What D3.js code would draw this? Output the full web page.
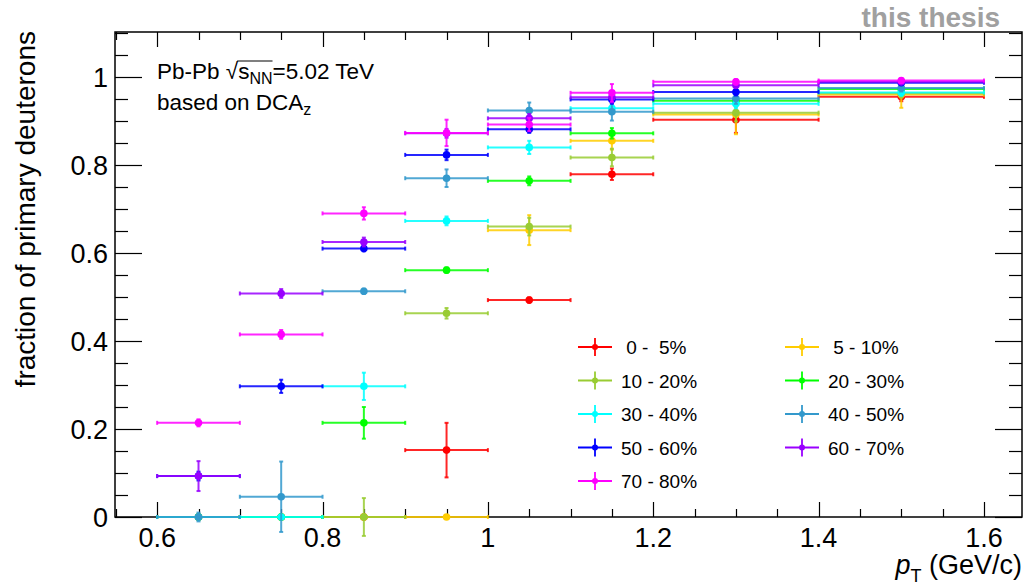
<!DOCTYPE html>
<html>
<head>
<meta charset="utf-8">
<script src="https://cdn.jsdelivr.net/npm/d3@7"></script>
<style>
  body { margin: 0; background: #fff; }
  text { font-family: "Liberation Sans", Arial, Helvetica, sans-serif; }
</style>
</head>
<body>
<script>
// bins in pT (GeV/c)
var binLo = [0.6, 0.7, 0.8, 0.9, 1.0, 1.1, 1.2, 1.4];
var binHi = [0.7, 0.8, 0.9, 1.0, 1.1, 1.2, 1.4, 1.6];

// centrality classes
var classNames = [" 0 -  5%", " 5 - 10%", "10 - 20%", "20 - 30%", "30 - 40%",
                  "40 - 50%", "50 - 60%", "60 - 70%", "70 - 80%"];
var classColors = ["#ff0000", "#ffcc00", "#99cc33", "#00ff00", "#00ffff",
                   "#3399cc", "#0000ff", "#9900ff", "#ff00ff"];

// fraction of primary deuterons per class, one value per bin
var frac0_5   = [0, 0, 0, 0.152, 0.493, 0.779, 0.903, 0.955];
var frac5_10  = [0, 0, 0, 0, 0.652, 0.855, 0.915, 0.960];
var frac10_20 = [0, 0, 0, 0.463, 0.660, 0.817, 0.919, 0.963];
var frac20_30 = [0, 0, 0.214, 0.561, 0.764, 0.872, 0.946, 0.973];
var frac30_40 = [0, 0, 0.297, 0.673, 0.840, 0.929, 0.939, 0.965];
var frac40_50 = [0, 0.046, 0.513, 0.770, 0.924, 0.921, 0.951, 0.975];
var frac50_60 = [0.093, 0.297, 0.610, 0.823, 0.881, 0.949, 0.966, 0.987];
var frac60_70 = [0.093, 0.508, 0.625, 0.872, 0.906, 0.954, 0.981, 0.989];
var frac70_80 = [0.214, 0.415, 0.690, 0.873, 0.892, 0.964, 0.989, 0.992];

// statistical errors
var err0_5   = [0.004, 0.004, 0.004, 0.062, 0.006, 0.013, 0.030, 0.010];
var err5_10  = [0.004, 0.004, 0.004, 0.004, 0.034, 0.020, 0.045, 0.030];
var err10_20 = [0.004, 0.004, 0.043, 0.012, 0.020, 0.020, 0.020, 0.010];
var err20_30 = [0.004, 0.004, 0.036, 0.006, 0.010, 0.012, 0.010, 0.008];
var err30_40 = [0.004, 0.004, 0.031, 0.010, 0.015, 0.012, 0.010, 0.008];
var err40_50 = [0.010, 0.080, 0.006, 0.020, 0.018, 0.020, 0.012, 0.008];
var err50_60 = [0.010, 0.015, 0.006, 0.012, 0.008, 0.010, 0.008, 0.005];
var err60_70 = [0.034, 0.010, 0.010, 0.010, 0.010, 0.012, 0.006, 0.005];
var err70_80 = [0.008, 0.010, 0.014, 0.030, 0.015, 0.020, 0.006, 0.005];

var allFrac = [frac0_5, frac5_10, frac10_20, frac20_30, frac30_40, frac40_50, frac50_60, frac60_70, frac70_80];
var allErr  = [err0_5, err5_10, err10_20, err20_30, err30_40, err40_50, err50_60, err60_70, err70_80];

var xMajor = [0.6, 0.8, 1.0, 1.2, 1.4, 1.6];
var yMajor = [0, 0.2, 0.4, 0.6, 0.8, 1.0];

var W = 1027, H = 587;
var padL = 115, padR = 1022, padT = 32, padB = 517;

var svg = d3.select("body").append("svg").attr("width", W).attr("height", H);

var x = d3.scaleLinear().domain([0.549, 1.646]).range([padL, padR]);
var y = d3.scaleLinear().domain([0, 1.1023]).range([padB, padT]);

// ticks, ROOT style (inside the frame, on all four sides)
var xMinor = d3.range(0.55, 1.6451, 0.05);
var yMinor = d3.range(0, 1.1001, 0.05);
var isMajor = function(v, list) { return list.some(function(m) { return Math.abs(m - v) < 1e-6; }); };

var tickG = svg.append("g").attr("stroke", "#000").attr("stroke-width", 1.2);
xMinor.forEach(function(v) {
    var len = isMajor(v, xMajor) ? 15 : 8;
    var px = Math.round(x(v)) + 0.5;
    tickG.append("line").attr("x1", px).attr("x2", px).attr("y1", padB).attr("y2", padB - len);
    tickG.append("line").attr("x1", px).attr("x2", px).attr("y1", padT).attr("y2", padT + len);
});
yMinor.forEach(function(v) {
    var len = isMajor(v, yMajor) ? 27 : 13;
    var py = Math.round(y(v)) + 0.5;
    tickG.append("line").attr("x1", padL).attr("x2", padL + len).attr("y1", py).attr("y2", py);
    tickG.append("line").attr("x1", padR).attr("x2", padR - len).attr("y1", py).attr("y2", py);
});

// frame
svg.append("rect").attr("x", padL).attr("y", padT).attr("width", padR - padL).attr("height", padB - padT)
    .attr("fill", "none").attr("stroke", "#000").attr("stroke-width", 1.5);

// tick labels
xMajor.forEach(function(v) {
    svg.append("text").attr("x", x(v)).attr("y", 547).attr("text-anchor", "middle")
        .attr("font-size", 27).text(+v.toFixed(1));
});
yMajor.forEach(function(v) {
    svg.append("text").attr("x", 108).attr("y", y(v) + 10).attr("text-anchor", "end")
        .attr("font-size", 27).text(+v.toFixed(1));
});

// axis titles
svg.append("text").attr("transform", "translate(35,31) rotate(-90)").attr("text-anchor", "end")
    .attr("font-size", 28).text("fraction of primary deuterons");

var xt = svg.append("text").attr("x", 1022).attr("y", 574).attr("text-anchor", "end").attr("font-size", 27);
xt.append("tspan").attr("font-style", "italic").text("p");
xt.append("tspan").attr("font-size", 18).attr("dy", 8).text("T");
xt.append("tspan").attr("dy", -8).text(" (GeV/c)");

// "this thesis"
svg.append("text").attr("x", 1000).attr("y", 27).attr("text-anchor", "end").attr("font-size", 28)
    .attr("font-weight", "bold").attr("fill", "#a0a0a0").text("this thesis");

// system label
var sys = svg.append("text").attr("x", 157).attr("y", 79).attr("font-size", 22.5);
sys.append("tspan").text("Pb-Pb ");
sys.append("tspan").text("\u221A");
sys.append("tspan").text("s");
sys.append("tspan").attr("font-size", 16).attr("dy", 5).text("NN");
sys.append("tspan").attr("dy", -5).text("=5.02 TeV");
var sqExt = sys.node().getExtentOfChar(6);
var nnExt = sys.node().getExtentOfChar(9);
svg.append("line").attr("x1", sqExt.x + sqExt.width - 1).attr("x2", nnExt.x + nnExt.width)
    .attr("y1", sqExt.y + 2).attr("y2", sqExt.y + 2).attr("stroke", "#000").attr("stroke-width", 1.2);

var dca = svg.append("text").attr("x", 157).attr("y", 110).attr("font-size", 22.5);
dca.append("tspan").text("based on DCA");
dca.append("tspan").attr("font-size", 16).attr("dy", 5).text("z");

// data points with error bars
var plotG = svg.append("g");
for (var s = 0; s < allFrac.length; s++) {
    var col = classColors[s];
    var g = plotG.append("g").attr("stroke", col).attr("fill", col).attr("stroke-width", 2)
        .attr("stroke-opacity", 0.85);
    for (var i = 0; i < binLo.length; i++) {
        var cx = x((binLo[i] + binHi[i]) / 2);
        var cy = y(allFrac[s][i]);
        var yTop = y(allFrac[s][i] + allErr[s][i]);
        var yBot = y(allFrac[s][i] - allErr[s][i]);
        g.append("line").attr("x1", x(binLo[i])).attr("x2", x(binHi[i])).attr("y1", cy).attr("y2", cy);
        g.append("line").attr("x1", cx).attr("x2", cx).attr("y1", yTop).attr("y2", yBot);
        // end caps
        g.append("line").attr("x1", x(binLo[i])).attr("x2", x(binLo[i])).attr("y1", cy - 2).attr("y2", cy + 2);
        g.append("line").attr("x1", x(binHi[i])).attr("x2", x(binHi[i])).attr("y1", cy - 2).attr("y2", cy + 2);
        g.append("line").attr("x1", cx - 2).attr("x2", cx + 2).attr("y1", yTop).attr("y2", yTop);
        g.append("line").attr("x1", cx - 2).attr("x2", cx + 2).attr("y1", yBot).attr("y2", yBot);
        g.append("circle").attr("cx", cx).attr("cy", cy).attr("r", 3.8).attr("stroke", "none");
    }
}

// legend
var legG = svg.append("g");
for (var k = 0; k < classNames.length; k++) {
    var colIdx = k % 2;
    var row = Math.floor(k / 2);
    var lx = colIdx == 0 ? 595 : 802;
    var ly = 347 + row * 33.5;
    var lg = legG.append("g").attr("stroke", classColors[k]).attr("fill", classColors[k]).attr("stroke-width", 1.8);
    lg.append("line").attr("x1", lx - 17).attr("x2", lx + 17).attr("y1", ly).attr("y2", ly);
    lg.append("line").attr("x1", lx).attr("x2", lx).attr("y1", ly - 9).attr("y2", ly + 9);
    lg.append("circle").attr("cx", lx).attr("cy", ly).attr("r", 3).attr("stroke", "none");
    legG.append("text").attr("x", lx + 26).attr("y", ly + 7).attr("font-size", 19)
        .style("white-space", "pre").text(classNames[k]);
}
</script>
</body>
</html>
